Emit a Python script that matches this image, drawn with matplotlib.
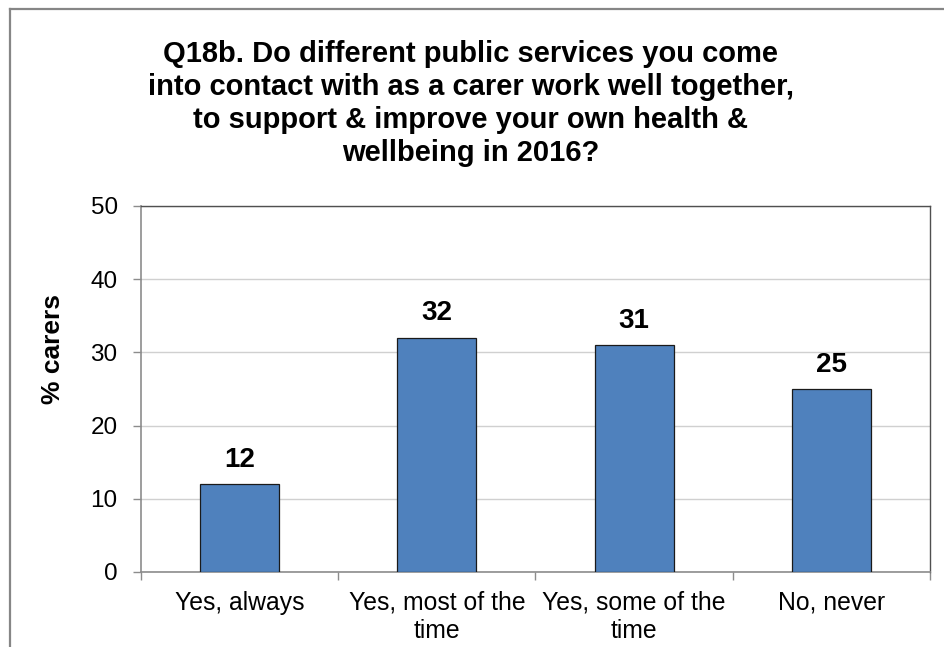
import matplotlib
matplotlib.use("Agg")
import matplotlib.pyplot as plt
from matplotlib.lines import Line2D
import numpy as np

plt.rcParams['font.family'] = ['Liberation Sans', 'DejaVu Sans']

# survey answers and share of carers
categories = ["Yes, always", "Yes, most of the\ntime", "Yes, some of the\ntime", "No, never"]
pct_carers = [12, 32, 31, 25]
y_ticks = [0, 10, 20, 30, 40, 50]

title = ("Q18b. Do different public services you come\n"
         "into contact with as a carer work well together,\n"
         "to support & improve your own health &\n"
         "wellbeing in 2016?")

W, H = 945, 647
fig = plt.figure(figsize=(W / 100, H / 100), dpi=100)

# outer chart frame (bottom/right run past the edge)
fig.add_artist(Line2D([10 / W, 10 / W], [0, 1 - 9 / H], color="#868686", lw=1.6))
fig.add_artist(Line2D([10 / W, 1], [1 - 9 / H, 1 - 9 / H], color="#868686", lw=1.6))

ax = fig.add_axes([141 / W, 75 / H, 789 / W, 366 / H])

x = np.arange(len(categories))
bars = ax.bar(x, pct_carers, width=0.4, color="#4F81BD", edgecolor="#1a1a1a",
              linewidth=0.9, zorder=3)

for b, v in zip(bars, pct_carers):
    ax.annotate(str(v), (b.get_x() + b.get_width() / 2, v), xytext=(0, 12.5),
                textcoords="offset points", ha="center", va="baseline",
                fontsize=20, fontweight="bold", color="black")

ax.set_ylim(0, 50)
ax.set_yticks(y_ticks)
ax.set_xlim(-0.5, len(categories) - 0.5)
ax.set_xticks(x)
ax.set_xticklabels(categories, fontsize=17.8, linespacing=1.22)
ax.set_xticks(np.arange(len(categories) + 1) - 0.5, minor=True)
ax.tick_params(axis="x", which="major", length=0, pad=13.5)
ax.tick_params(axis="x", which="minor", length=6, color="#8c8c8c", width=1)
ax.tick_params(axis="y", length=5.8, color="#8c8c8c", width=1, labelsize=17.5, pad=11)

ax.grid(axis="y", color="#d0d0d0", lw=1, zorder=0)
ax.set_axisbelow(True)

for side in ["left", "bottom"]:
    ax.spines[side].set_color("#8c8c8c")
    ax.spines[side].set_linewidth(1.2)
for side in ["top", "right"]:
    ax.spines[side].set_color("#505050")
    ax.spines[side].set_linewidth(1.0)

ax.set_ylabel("% carers", fontsize=19, fontweight="bold")
ax.yaxis.set_label_coords(-0.096, 0.609)

fig.text(471 / W, 1 - 40 / H, title, ha="center", va="top", fontsize=21,
         fontweight="bold", linespacing=1.22)

fig.savefig("out.png", dpi=100)
